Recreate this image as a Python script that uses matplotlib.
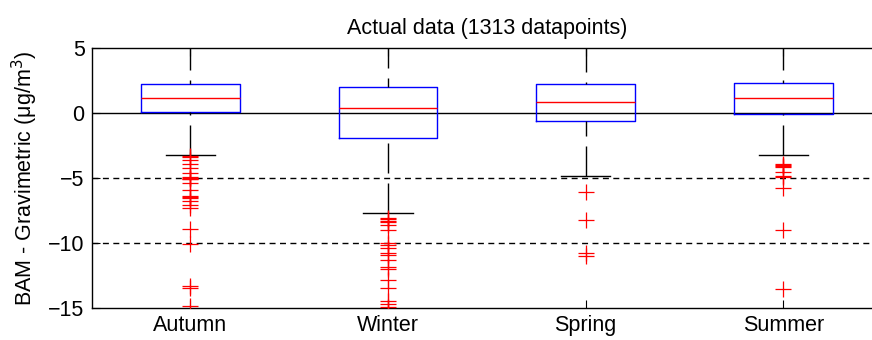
import matplotlib
matplotlib.use("Agg")
import matplotlib.pyplot as plt

plt.rcParams['font.family'] = ['Liberation Sans', 'DejaVu Sans']

# seasonal summary of BAM minus gravimetric differences
seasons = ['Autumn', 'Winter', 'Spring', 'Summer']
medians = [1.2, 0.38, 0.82, 1.2]
q1 = [0.1, -1.95, -0.62, -0.05]
q3 = [2.28, 1.98, 2.28, 2.36]
whisker_lo = [-3.25, -7.72, -4.85, -3.25]
whisker_hi = [5.6, 5.8, 5.5, 5.6]

autumn_out = [-3.33, -3.4, -3.6, -3.9, -4.25, -4.6, -4.9, -5.0, -5.05, -5.1,
              -5.35, -5.9, -6.4, -6.5, -6.55, -6.8, -7.1, -7.3, -8.9,
              -10.1, -13.35, -13.45, -14.9]
winter_out = [-8.1, -8.2, -8.3, -8.36, -8.62, -9.0, -10.02, -10.15, -10.4,
              -10.8, -10.92, -11.3, -11.9, -12.0, -12.9, -13.5, -14.5,
              -14.75, -14.95]
spring_out = [-6.05, -8.23, -10.8, -11.05]
summer_out = [-3.9, -4.0, -4.1, -4.15, -4.5, -4.85, -4.9, -5.75, -9.0, -13.55]
outliers = [autumn_out, winter_out, spring_out, summer_out]

ref_solid = 0
ref_dashed = [-5, -10]

stats = []
for i, name in enumerate(seasons):
    stats.append(dict(label=name, med=medians[i], q1=q1[i], q3=q3[i],
                      whislo=whisker_lo[i], whishi=whisker_hi[i],
                      fliers=outliers[i]))

fig = plt.figure(figsize=(8.72, 3.4), dpi=100)
# axes runs slightly past the right edge of the canvas
ax = fig.add_axes([0.105, 0.095, 0.9065, 0.763])

ax.axhline(ref_solid, color='black', lw=1.0, zorder=1)
for y in ref_dashed:
    ax.axhline(y, color='black', lw=1.0, ls=(0, (4.3, 3.2)), zorder=1)

positions = list(range(1, len(seasons) + 1))
bp = ax.bxp(stats, positions=positions, widths=0.5, capwidths=0.25,
            boxprops=dict(color='blue', lw=1.0),
            medianprops=dict(color='red', lw=1.0),
            whiskerprops=dict(color='black', lw=1.0, ls=(0, (21.6, 7.2))),
            capprops=dict(color='black', lw=1.0),
            flierprops=dict(marker='+', markersize=11, markeredgecolor='red',
                            markeredgewidth=0.9, linestyle='none'))

# dash pattern starts from the whisker end, not the box
for w in bp['whiskers']:
    w.set_ydata(w.get_ydata()[::-1])
for f in bp['fliers']:
    f.set_zorder(3)

ax.set_xlim(0.5, 4.5)
ax.set_ylim(-15, 5)
ax.set_yticks([-15, -10, -5, 0, 5])
ax.set_xticks(positions)
ax.set_xticklabels(seasons)
ax.tick_params(direction='in', length=5.8, width=0.8, labelsize=15.5,
               top=True, right=False, pad=5)
for s in ax.spines.values():
    s.set_linewidth(1.0)

ax.set_title('Actual data (1313 datapoints)', fontsize=15.5, pad=10)
ax.set_ylabel('BAM - Gravimetric (μg/m$^3$)', fontsize=15.5, labelpad=6)

fig.savefig('out.png', dpi=100, facecolor='white')
